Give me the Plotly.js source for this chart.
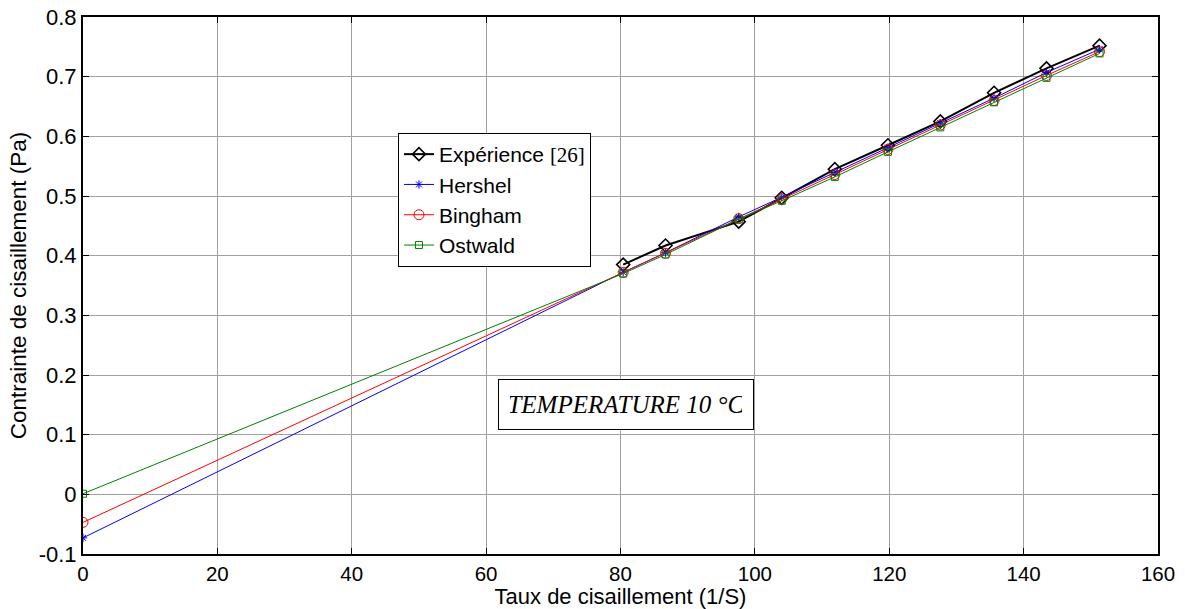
<!DOCTYPE html>
<html>
<head>
<meta charset="utf-8">
<script src="https://cdn.plot.ly/plotly-3.0.1.min.js"></script>
<style>html,body{margin:0;padding:0;background:#fff;}#chart{width:1185px;height:609px;}</style>
</head>
<body>
<div id="chart"></div>
<script>
// Experimental data
const expX = [80.4, 86.7, 97.6, 104.0, 111.9, 119.8, 127.6, 135.6, 143.4, 151.3];
const expY = [0.385, 0.417, 0.457, 0.497, 0.545, 0.585, 0.625, 0.673, 0.714, 0.752];
// Model curves (start at shear rate 0)
const modelX = [0, 80.4, 86.7, 97.6, 104.0, 111.9, 119.8, 127.6, 135.6, 143.4, 151.3];
const hershelY = [-0.073, 0.372, 0.405, 0.465, 0.498, 0.540, 0.581, 0.622, 0.664, 0.707, 0.746];
const binghamY = [-0.047, 0.372, 0.404, 0.462, 0.495, 0.536, 0.578, 0.619, 0.660, 0.702, 0.742];
const ostwaldY = [0.001, 0.370, 0.402, 0.461, 0.492, 0.532, 0.574, 0.615, 0.657, 0.698, 0.739];
const xTicks = [0, 20, 40, 60, 80, 100, 120, 140, 160];
const yTicks = [-0.1, 0, 0.1, 0.2, 0.3, 0.4, 0.5, 0.6, 0.7, 0.8];
const yTickText = ['-0.1', '0', '0.1', '0.2', '0.3', '0.4', '0.5', '0.6', '0.7', '0.8'];
const names = ['Expérience <span style="font-family:\'Liberation Serif\',serif">[26]</span>', 'Hershel', 'Bingham', 'Ostwald'];

const SANS = 'Arial, Liberation Sans, sans-serif';

const traces = [
  {x: expX, y: expY, name: names[0], mode: 'lines+markers',
   line: {color: '#000000', width: 2},
   marker: {symbol: 'diamond-open', size: 10, color: '#000000', line: {width: 1.6}}},
  {x: modelX, y: hershelY, name: names[1], mode: 'lines+markers',
   line: {color: '#0000ff', width: 1},
   marker: {symbol: 'asterisk-open', size: 7, color: '#0000ff', line: {width: 1}}},
  {x: modelX, y: binghamY, name: names[2], mode: 'lines+markers',
   line: {color: '#ff0000', width: 1},
   marker: {symbol: 'circle-open', size: 10, color: '#ff0000', line: {width: 1}}},
  {x: modelX, y: ostwaldY, name: names[3], mode: 'lines+markers',
   line: {color: '#008000', width: 1},
   marker: {symbol: 'square-open', size: 7, color: '#008000', line: {width: 1}}}
];

const axisCommon = {
  showline: true, linecolor: '#000', linewidth: 2, mirror: 'ticks',
  ticks: 'inside', ticklen: 6, tickcolor: '#000', tickwidth: 1,
  showgrid: true, gridcolor: '#a0a0a0', gridwidth: 1, zeroline: false,
  tickfont: {family: SANS, size: 22, color: '#000'}
};

const layout = {
  width: 1185, height: 609,
  margin: {l: 83, r: 27, t: 17, b: 55},
  paper_bgcolor: '#fff', plot_bgcolor: '#fff',
  showlegend: true,
  legend: {x: 0.293, y: 0.784, xanchor: 'left', yanchor: 'top',
    bgcolor: '#fff', bordercolor: '#000', borderwidth: 1,
    font: {family: SANS, size: 21, color: '#000'},
    tracegroupgap: 0, itemwidth: 30},
  xaxis: Object.assign({}, axisCommon, {
    range: [0, 160], tickvals: xTicks, ticktext: xTicks.map(String), ticklabelstandoff: 0,
    tickfont: {family: SANS, size: 20.5, color: '#000'},
    title: {text: 'Taux de cisaillement (1/S)', standoff: 0,
      font: {family: SANS, size: 22, color: '#000'}}
  }),
  yaxis: Object.assign({}, axisCommon, {
    range: [-0.1, 0.8], tickvals: yTicks, ticktext: yTickText,
    title: {text: 'Contrainte de cisaillement (Pa)', standoff: 6,
      font: {family: SANS, size: 22.5, color: '#000'}}
  }),
  annotations: [{
    x: 80.8, y: 0.15, xref: 'x', yref: 'y', showarrow: false,
    text: '<i>TEMPERATURE 10 °C</i>',
    font: {family: 'Liberation Serif, DejaVu Serif, serif', size: 25, color: '#000'},
    bgcolor: '#fff', bordercolor: '#000', borderwidth: 1, borderpad: 11,
    width: 232
  }]
};

Plotly.newPlot('chart', traces, layout, {displayModeBar: false, staticPlot: true});
</script>
</body>
</html>
